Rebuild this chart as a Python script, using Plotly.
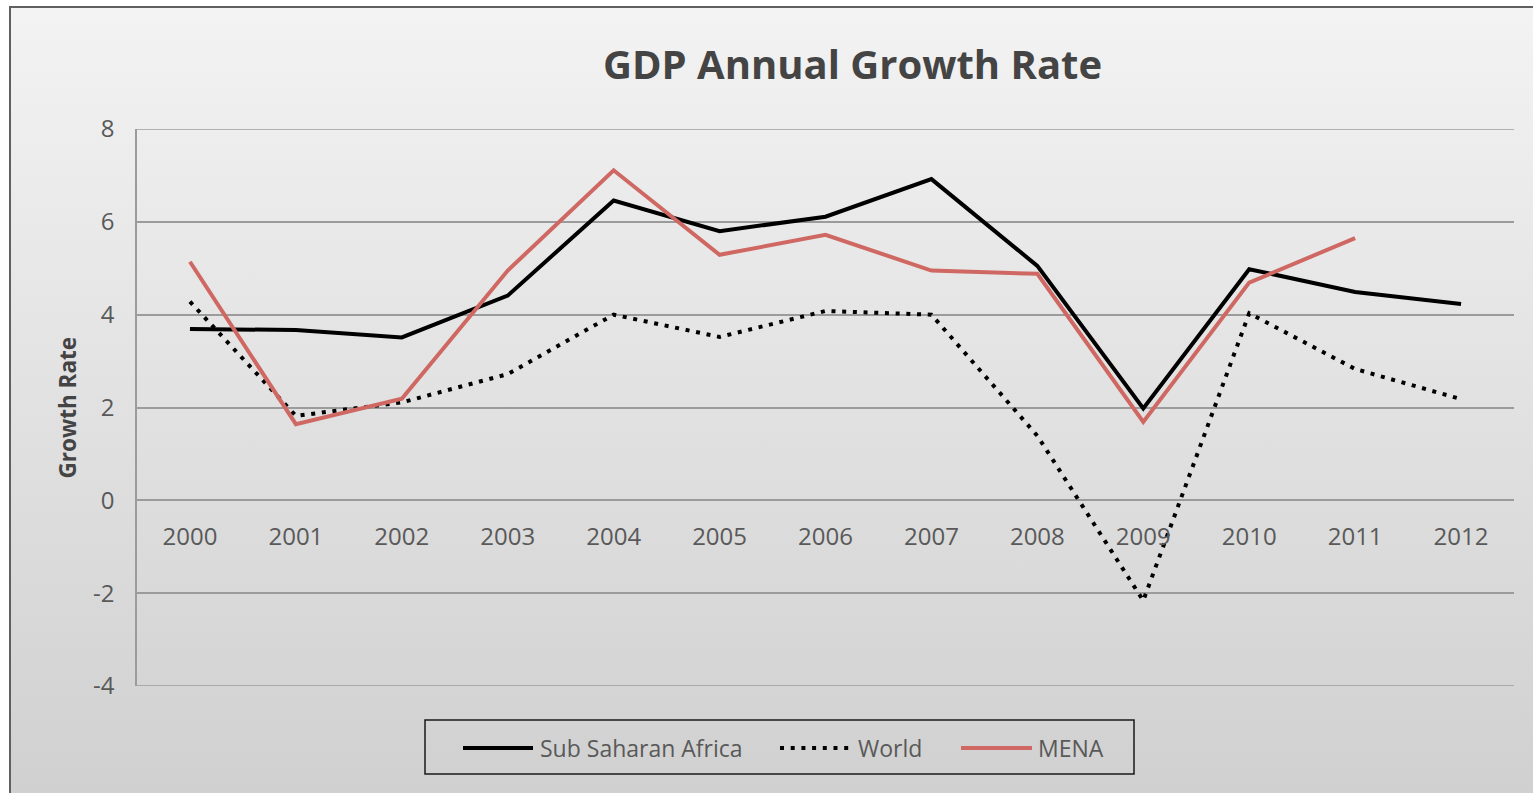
import base64
import plotly.graph_objects as go

# GDP annual growth rate (%), 2000-2012
years = ["2000", "2001", "2002", "2003", "2004", "2005", "2006",
         "2007", "2008", "2009", "2010", "2011", "2012"]
sub_saharan_africa = [3.69, 3.67, 3.51, 4.41, 6.46, 5.80, 6.11,
                      6.92, 5.05, 1.98, 4.98, 4.49, 4.23]
world = [4.28, 1.82, 2.11, 2.72, 4.00, 3.52, 4.08,
         4.00, 1.39, -2.16, 4.03, 2.83, 2.18]
mena = [5.14, 1.64, 2.19, 4.95, 7.11, 5.29, 5.72,
        4.95, 4.88, 1.69, 4.69, 5.65, None]

y_ticks = [-4, -2, 0, 2, 4, 6, 8]
y_tick_labels = ["-4", "-2", "0", "2", "4", "6", "8"]

W, H = 1533, 793
L, R, T, B = 137, 19, 129, 107
PW, PH = W - L - R, H - T - B

SSA_COLOR = "#000000"
MENA_COLOR = "#cf6862"
GRID = "#9b9b9b"
TEXT = "#595959"
FONT = "Open Sans"


def px_x(px):
    return (px - L) / PW


def px_y(py):
    return (H - B - py) / PH


fig = go.Figure()
fig.add_trace(go.Scatter(x=years, y=sub_saharan_africa, name="Sub Saharan Africa",
                         mode="lines", line=dict(color=SSA_COLOR, width=4)))
fig.add_trace(go.Scatter(x=years, y=world, name="World", mode="lines",
                         line=dict(color="#000000", width=4, dash="4px,6.7px")))
fig.add_trace(go.Scatter(x=years, y=mena, name="MENA", mode="lines",
                         line=dict(color=MENA_COLOR, width=4)))

# chart-area background: vertical grey gradient with a dark frame
svg = f"""<svg xmlns='http://www.w3.org/2000/svg' width='{W}' height='{H}' viewBox='0 0 {W} {H}' preserveAspectRatio='none'>
<defs><linearGradient id='g' x1='0' y1='0' x2='0' y2='1'>
<stop offset='0' stop-color='#f3f3f3'/><stop offset='1' stop-color='#cfcfcf'/>
</linearGradient></defs>
<rect x='0' y='0' width='{W}' height='{H}' fill='#ffffff'/>
<rect x='10' y='7' width='{W + 20}' height='{H + 20}' fill='url(#g)' stroke='#606060' stroke-width='2'/>
</svg>"""
bg_src = "data:image/svg+xml;base64," + base64.b64encode(svg.encode()).decode()

fig.add_layout_image(dict(source=bg_src, xref="paper", yref="paper",
                          x=px_x(0), y=px_y(0), sizex=W / PW, sizey=H / PH,
                          xanchor="left", yanchor="top", sizing="stretch",
                          layer="below"))

# horizontal gridlines at the two ends of the value range
shapes = [dict(type="line", xref="paper", yref="y", x0=0, x1=1, y0=v, y1=v,
               line=dict(color=GRID, width=1.5), layer="below")
          for v in (y_ticks[0], y_ticks[-1])]

# legend box with long line samples
shapes.append(dict(type="rect", xref="paper", yref="paper",
                   x0=px_x(425), x1=px_x(1134), y0=px_y(720), y1=px_y(774),
                   line=dict(color="#1a1a1a", width=1.5), fillcolor="rgba(0,0,0,0)"))
legend_items = [
    ("Sub Saharan Africa", dict(color=SSA_COLOR, width=4), 463, 533, 538),
    ("World", dict(color="#000000", width=4, dash="4px,6.7px"), 780, 849, 856),
    ("MENA", dict(color=MENA_COLOR, width=4), 961, 1032, 1036),
]
annotations = []
ly = 748
for label, line, x0, x1, tx in legend_items:
    shapes.append(dict(type="line", xref="paper", yref="paper",
                       x0=px_x(x0), x1=px_x(x1), y0=px_y(ly), y1=px_y(ly), line=line))
    annotations.append(dict(text=label, xref="paper", yref="paper",
                            x=px_x(tx), y=px_y(ly), xanchor="left", yanchor="middle",
                            showarrow=False, font=dict(family=FONT, size=23, color=TEXT)))

annotations.append(dict(text="<b>GDP Annual Growth Rate</b>", xref="paper", yref="paper",
                        x=px_x(852), y=px_y(64), xanchor="center", yanchor="middle",
                        showarrow=False, font=dict(family=FONT, size=40, color="#444444")))

annotations.append(dict(text="<b>Growth Rate</b>", xref="paper", yref="paper",
                        x=px_x(67), y=0.5, xanchor="center", yanchor="middle",
                        textangle=-90, showarrow=False,
                        font=dict(family=FONT, size=22.5, color="#444444")))

fig.update_layout(
    width=W, height=H,
    margin=dict(l=L, r=R, t=T, b=B, pad=0),
    paper_bgcolor="rgba(0,0,0,0)",
    plot_bgcolor="rgba(0,0,0,0)",
    showlegend=False,
    shapes=shapes,
    annotations=annotations,
    font=dict(family=FONT, color=TEXT),
    xaxis=dict(type="category", range=[-0.5, 12.5], anchor="free", position=1 / 3,
               showgrid=False, showline=False, zeroline=False, ticks="",
               ticklabelstandoff=20, tickfont=dict(size=24, color=TEXT),
               fixedrange=True),
    yaxis=dict(range=[-4, 8], tickvals=y_ticks, ticktext=y_tick_labels, showgrid=True,
               gridcolor=GRID, gridwidth=1.5, zeroline=True, zerolinecolor=GRID,
               zerolinewidth=1.5, showline=True, linecolor=GRID, linewidth=1.5,
               ticks="", ticklabelstandoff=16, tickfont=dict(size=24, color=TEXT),
               automargin=False, fixedrange=True),
)

fig.write_html("out.html")
